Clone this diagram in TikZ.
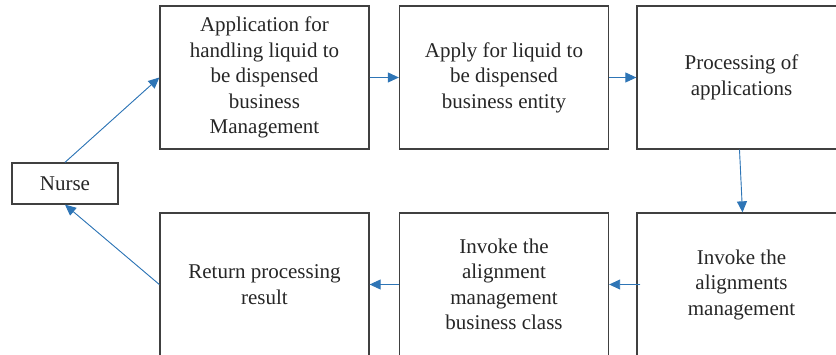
\documentclass[tikz,border=0pt]{standalone}
\usepackage{fontspec}
\setmainfont{Liberation Serif}
\usetikzlibrary{arrows.meta,calc}
\definecolor{arrowblue}{RGB}{46,117,182}
\definecolor{boxgray}{RGB}{64,64,64}
\tikzset{
  procbox/.style={draw=boxgray, line width=1.3pt, minimum width=209pt, minimum height=143pt, align=center, inner sep=0pt,
    font=\fontsize{21}{25.5}\selectfont, text=black!85},
  nursebox/.style={draw=boxgray, line width=1.3pt, minimum width=106pt, minimum height=41pt, inner sep=0pt,
    font=\fontsize{21}{25.5}\selectfont, text=black!85},
  flow/.style={draw=arrowblue, line width=0.9pt, -{Triangle[length=11pt,width=10pt]}, fill=arrowblue}
}
\begin{document}
\begin{tikzpicture}[x=1pt,y=-1pt]
\useasboundingbox (0,0) rectangle (836,355);
\node[nursebox] (nurse) at (65,183.5) {Nurse};
\node[procbox] (b1) at (264.5,77.5) {Application for\\handling liquid to\\be dispensed\\business\\Management};
\node[procbox] (b2) at (504,77.5) {Apply for liquid to\\be dispensed\\business entity};
\node[procbox] (b3) at (741.5,77.5) {Processing of\\applications};
\node[procbox] (b6) at (741.5,284.5) {Invoke the\\alignments\\management};
\node[procbox] (b5) at (504,284.5) {Invoke the\\alignment\\management\\business class};
\node[procbox] (b4) at (264.5,284.5) {Return processing\\result};
\draw[flow] (nurse.north) -- (b1.west);
\draw[flow] (b1.east) -- (b2.west);
\draw[flow] (b2.east) -- (b3.west);
\draw[flow] ([xshift=-2pt]b3.south) -- ([xshift=1pt]b6.north);
\draw[flow] ([xshift=4pt]b6.west) -- (b5.east);
\draw[flow] (b5.west) -- (b4.east);
\draw[flow] (b4.west) -- (nurse.south);
\end{tikzpicture}
\end{document}
